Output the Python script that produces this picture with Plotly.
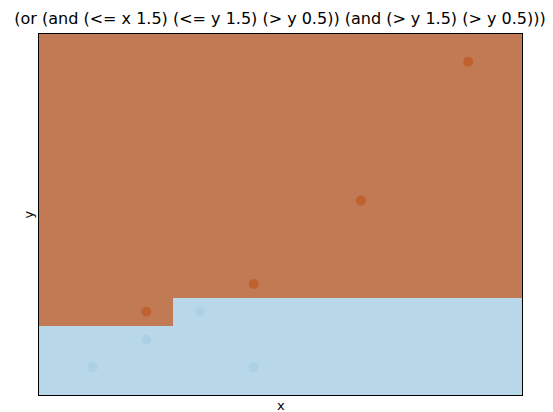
import plotly.graph_objects as go

# data points
px = [0, 1, 1, 2, 3, 3, 5, 7]
py = [0, 1, 2, 2, 0, 3, 6, 11]
pclass = [0, 0, 1, 0, 0, 1, 1, 1]

# decision region grid edges
x_edges = [-1, 1.5, 8]
y_edges = [-1, 1.5, 2.5, 12]

def rule(x, y):
    return 1 if ((x <= 1.5 and y > 1.5) or (y > 2.5)) else 0

xc = [(x_edges[i] + x_edges[i + 1]) / 2 for i in range(len(x_edges) - 1)]
yc = [(y_edges[j] + y_edges[j + 1]) / 2 for j in range(len(y_edges) - 1)]
z = [[rule(x, y) for x in xc] for y in yc]

region_colors = ["#b8d8e9", "#c17a53"]
point_colors = ["#acd1e5", "#bf6230"]

W, H = 545, 404  # page body has an 8px margin

fig = go.Figure()
fig.add_trace(go.Heatmap(
    x=x_edges, y=y_edges, z=z,
    colorscale=[[0, region_colors[0]], [1, region_colors[1]]],
    zmin=0, zmax=1, showscale=False, hoverinfo="skip",
))
fig.add_trace(go.Scatter(
    x=px, y=py, mode="markers",
    marker=dict(size=10, color=[point_colors[c] for c in pclass], line=dict(width=0)),
    showlegend=False,
))

fig.update_layout(
    width=W, height=H,
    margin=dict(l=31, r=31, t=26, b=17),
    paper_bgcolor="white", plot_bgcolor="white",
    font=dict(family="DejaVu Sans", color="black"),
    title=dict(text="(or (and (<= x 1.5) (<= y 1.5) (> y 0.5)) (and (> y 1.5) (> y 0.5)))",
               x=(280 - 8) / W, xanchor="center", y=1 - 10 / H, yanchor="middle",
               font=dict(size=16)),
    xaxis=dict(range=[-1, 8], showticklabels=False, ticks="", showgrid=False, zeroline=False,
               showline=True, linecolor="black", linewidth=1, mirror=True),
    yaxis=dict(range=[-1, 12], showticklabels=False, ticks="", showgrid=False, zeroline=False,
               showline=True, linecolor="black", linewidth=1, mirror=True),
    annotations=[
        dict(text="x", xref="paper", yref="paper", x=0.5, y=0, yshift=-10,
             xanchor="center", yanchor="middle", showarrow=False, font=dict(size=13)),
        dict(text="y", xref="paper", yref="paper", x=0, y=0.5, xshift=-11,
             xanchor="center", yanchor="middle", showarrow=False, textangle=-90,
             font=dict(size=13)),
    ],
)

fig.write_html("out.html")
